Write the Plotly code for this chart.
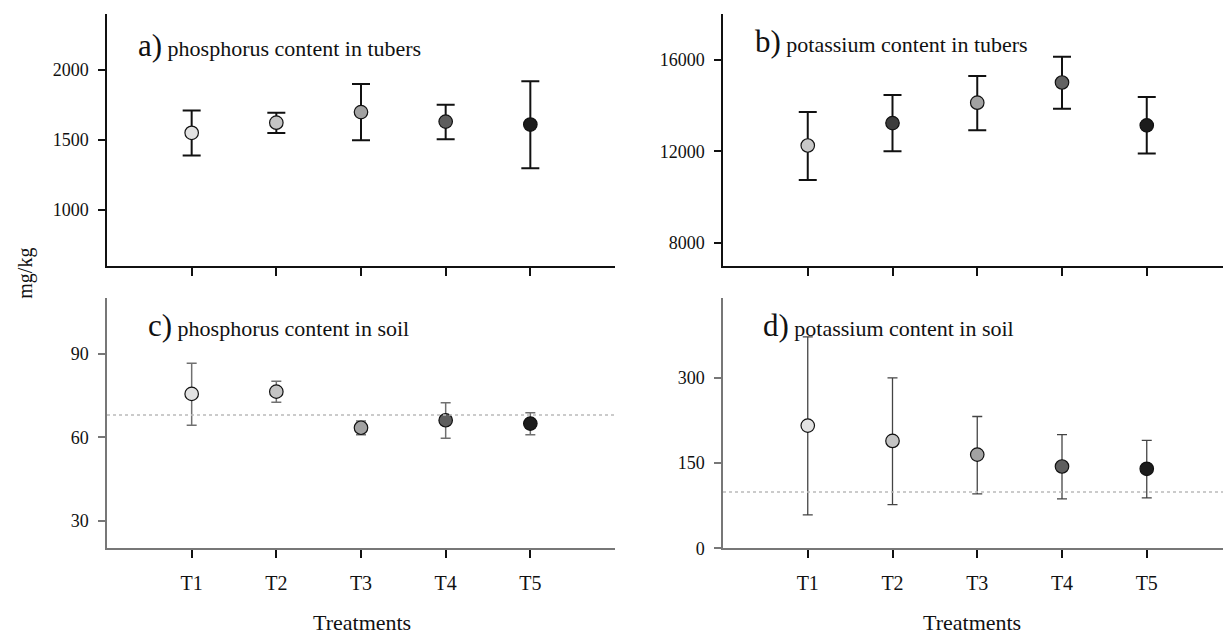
import plotly.graph_objects as go

W, H = 1223, 644

treatments = ["T1", "T2", "T3", "T4", "T5"]
x_pos = [1, 2, 3, 4, 5]

# a) phosphorus content in tubers
p_tuber = [1550, 1622, 1698, 1630, 1609]
p_tuber_up = [160, 72, 200, 120, 310]
p_tuber_dn = [163, 73, 201, 126, 313]
# b) potassium content in tubers
k_tuber = [12250, 13230, 14120, 15000, 13130]
k_tuber_up = [1460, 1230, 1160, 1120, 1235]
k_tuber_dn = [1500, 1230, 1200, 1150, 1230]
# c) phosphorus content in soil
p_soil = [75.6, 76.4, 63.4, 66.1, 64.9]
p_soil_up = [11.0, 3.7, 2.4, 6.3, 3.9]
p_soil_dn = [11.3, 3.8, 2.5, 6.5, 4.0]
p_soil_ref = 68
# d) potassium content in soil
k_soil = [216, 189, 165, 144, 140]
k_soil_up = [156, 111, 67, 56, 50]
k_soil_dn = [157, 112, 69, 57, 51]
k_soil_ref = 99

colors_a = ["#e2e2e2", "#c4c4c4", "#a2a2a2", "#5e5e5e", "#1c1c1c"]
colors_b = ["#c8c8c8", "#3c3c3c", "#a2a2a2", "#626262", "#1c1c1c"]
colors_c = ["#e2e2e2", "#c4c4c4", "#a2a2a2", "#5e5e5e", "#1c1c1c"]
colors_d = ["#e2e2e2", "#c4c4c4", "#a2a2a2", "#5e5e5e", "#1c1c1c"]

FONT = "Liberation Serif, Times New Roman, serif"

def px_x(v):
    return v / W

def px_y(v):
    return 1 - v / H

fig = go.Figure()

panels = [
    dict(y=p_tuber, up=p_tuber_up, dn=p_tuber_dn, col=colors_a, xa="x", ya="y",
         thick=2, cap=9, ecol="#111111"),
    dict(y=k_tuber, up=k_tuber_up, dn=k_tuber_dn, col=colors_b, xa="x2", ya="y2",
         thick=2, cap=9, ecol="#111111"),
    dict(y=p_soil, up=p_soil_up, dn=p_soil_dn, col=colors_c, xa="x3", ya="y3",
         thick=1.5, cap=5, ecol="#707070"),
    dict(y=k_soil, up=k_soil_up, dn=k_soil_dn, col=colors_d, xa="x4", ya="y4",
         thick=1.3, cap=5, ecol="#444444"),
]

for p in panels:
    fig.add_trace(go.Scatter(
        x=x_pos, y=p["y"], mode="markers", xaxis=p["xa"], yaxis=p["ya"],
        marker=dict(size=13.5, color=p["col"], line=dict(color="#111111", width=1.2)),
        error_y=dict(type="data", array=p["up"], arrayminus=p["dn"], symmetric=False,
                     thickness=p["thick"], width=p["cap"], color=p["ecol"]),
        showlegend=False, cliponaxis=False,
    ))

top_y = [px_y(270), px_y(14)]
bot_y = [px_y(557), px_y(303)]
left_x = [px_x(107), px_x(615)]
right_x = [px_x(723), 1.0]

def xax(domain, anchor, rng, labels, lc):
    return dict(domain=domain, anchor=anchor, range=rng, tickmode="array",
                tickvals=x_pos, ticktext=labels, showline=True, linecolor=lc,
                linewidth=1.5, ticks="outside", ticklen=8, tickwidth=2, tickcolor="#111111",
                showgrid=False, zeroline=False, ticklabelstandoff=8,
                tickfont=dict(family=FONT, size=20, color="#111111"))

def yax(domain, anchor, rng, vals, lc):
    return dict(domain=domain, anchor=anchor, range=rng, tickmode="array",
                tickvals=vals, ticktext=[str(v) for v in vals], showline=True,
                linecolor=lc, linewidth=1.5, ticks="outside", ticklen=7, tickwidth=1.5,
                tickcolor=lc, showgrid=False, zeroline=False, ticklabelstandoff=6,
                tickfont=dict(family=FONT, size=18, color="#111111"))

blank = ["", "", "", "", ""]
fig.update_layout(
    width=W, height=H, margin=dict(l=0, r=0, t=0, b=0),
    paper_bgcolor="white", plot_bgcolor="white",
    xaxis=xax(left_x, "y", [0, 6], blank, "#111111"),
    yaxis=yax(top_y, "x", [600, 2400], [1000, 1500, 2000], "#111111"),
    xaxis2=xax(right_x, "y2", [0, 500 / 84.75], blank, "#111111"),
    yaxis2=yax(top_y, "x2", [7000, 18000], [8000, 12000, 16000], "#111111"),
    xaxis3=xax(left_x, "y3", [0, 6], treatments, "#777777"),
    yaxis3=yax(bot_y, "x3", [20, 110], [30, 60, 90], "#777777"),
    xaxis4=xax(right_x, "y4", [0, 500 / 84.75], treatments, "#777777"),
    yaxis4=yax(bot_y, "x4", [0, 440], [0, 150, 300], "#777777"),
    font=dict(family=FONT, color="#111111"),
)

# reference (dotted) lines
fig.add_shape(type="line", xref="x3", yref="y3", x0=0, x1=6, y0=p_soil_ref, y1=p_soil_ref,
              line=dict(color="#bbbbbb", width=1.5, dash="dot"))
fig.add_shape(type="line", xref="x4", yref="y4", x0=0, x1=500 / 84.75, y0=k_soil_ref, y1=k_soil_ref,
              line=dict(color="#bbbbbb", width=1.5, dash="dot"))

labels = [
    ("a)", "phosphorus content in tubers", 136, 46),
    ("b)", "potassium content in tubers", 753, 42),
    ("c)", "phosphorus content in soil", 146, 331),
    ("d)", "potassium content in soil", 761, 331),
]
for letter, txt, x, y in labels:
    fig.add_annotation(
        xref="paper", yref="paper", x=px_x(x), y=px_y(y), xanchor="left", yanchor="middle",
        text=f"<span style='font-size:31px'>{letter}</span><span style='font-size:22px'> {txt}</span>",
        showarrow=False, font=dict(family=FONT, size=22, color="#111111"),
    )

fig.add_annotation(xref="paper", yref="paper", x=px_x(26), y=px_y(278), text="mg/kg",
                   textangle=-90, showarrow=False, xanchor="center", yanchor="middle",
                   font=dict(family=FONT, size=20, color="#111111"))
for cx in (362, 972):
    fig.add_annotation(xref="paper", yref="paper", x=px_x(cx), y=px_y(632), text="Treatments",
                       showarrow=False, xanchor="center", yanchor="middle",
                       font=dict(family=FONT, size=22, color="#111111"))

fig.write_html("out.html")
